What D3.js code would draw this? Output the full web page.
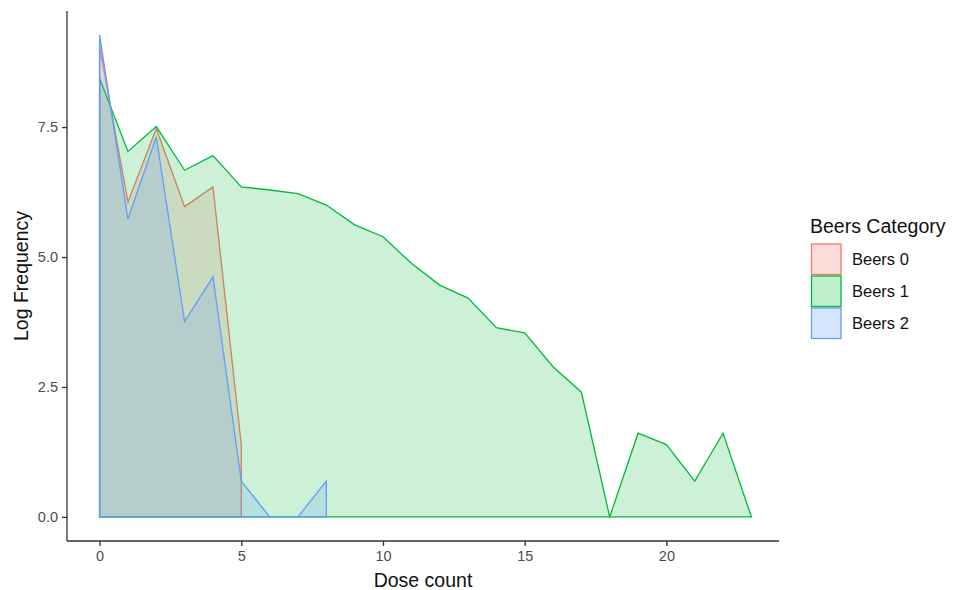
<!DOCTYPE html>
<html>
<head>
<meta charset="utf-8">
<script src="https://cdn.jsdelivr.net/npm/d3@7"></script>
<style>
  body { margin: 0; background: #fff; }
  svg { display: block; font-family: "Liberation Sans", Arial, sans-serif; }
</style>
</head>
<body>
<svg id="chart" width="953" height="590"></svg>
<script>
// Log frequency of dose counts per beers category
const doseBeers0 = [0, 1, 2, 3, 4, 5];
const logFreqBeers0 = [9.05, 6.06, 7.47, 5.97, 6.35, 1.39];

const doseBeers1 = [0, 1, 2, 3, 4, 5, 6, 7, 8, 9, 10, 11, 12, 13, 14, 15, 16, 17, 18, 19, 20, 21, 22, 23];
const logFreqBeers1 = [8.44, 7.03, 7.51, 6.67, 6.95, 6.35, 6.29, 6.22, 6.00, 5.62, 5.39, 4.88, 4.46, 4.21, 3.64, 3.54, 2.89, 2.40, 0, 1.61, 1.39, 0.69, 1.61, 0];

const doseBeers2 = [0, 1, 2, 3, 4, 5, 6, 7, 8];
const logFreqBeers2 = [9.27, 5.73, 7.31, 3.76, 4.62, 0.69, 0, 0, 0.69];

const categories = ["Beers 0", "Beers 1", "Beers 2"];
const colors = ["#F8766D", "#00BA38", "#619CFF"];
const xTicks = [0, 5, 10, 15, 20];
const yTicks = [0, 2.5, 5, 7.5];

const series = [
  { name: categories[0], dose: doseBeers0, value: logFreqBeers0, color: colors[0] },
  { name: categories[1], dose: doseBeers1, value: logFreqBeers1, color: colors[1] },
  { name: categories[2], dose: doseBeers2, value: logFreqBeers2, color: colors[2] }
];

const svg = d3.select("#chart");
const plotLeft = 67, plotRight = 784, plotTop = 11, plotBottom = 541;
const axisEnd = 779;

const x = d3.scaleLinear().domain([-1.15, 24.15]).range([plotLeft, plotRight]);
const y = d3.scaleLinear().domain([-0.4635, 9.7335]).range([plotBottom, plotTop]);

// areas, outlined all the way round
const area = d3.area()
  .x(d => x(d[0]))
  .y0(y(0))
  .y1(d => y(d[1]));

series.forEach(s => {
  const pts = s.dose.map((d, i) => [d, s.value[i]]);
  svg.append("path")
    .attr("d", area(pts))
    .attr("fill", s.color)
    .attr("fill-opacity", 0.2)
    .attr("stroke", s.color)
    .attr("stroke-width", 1.3)
    .attr("stroke-linejoin", "miter");
});

// axes
const axisColor = "#333";
const xAxis = svg.append("g").attr("transform", `translate(0,${plotBottom})`)
  .call(d3.axisBottom(x).tickValues(xTicks).tickFormat(d3.format("d")).tickSize(5).tickPadding(5));
const yAxis = svg.append("g").attr("transform", `translate(${plotLeft},0)`)
  .call(d3.axisLeft(y).tickValues(yTicks).tickFormat(d3.format(".1f")).tickSize(5).tickPadding(4));

[xAxis, yAxis].forEach(g => {
  g.select(".domain").attr("stroke", axisColor).attr("stroke-width", 1.3);
  g.selectAll(".tick line").attr("stroke", axisColor).attr("stroke-width", 1.3);
  g.selectAll(".tick text").attr("fill", "#4d4d4d").style("font-size", "14.5px")
    .style("font-family", "'Liberation Sans', Arial, sans-serif");
});
xAxis.select(".domain").attr("d", `M${plotLeft},0H${axisEnd}`);
yAxis.select(".domain").attr("d", `M0,${plotTop}V${plotBottom}`);

// axis titles
svg.append("text")
  .attr("x", 423).attr("y", 587)
  .attr("text-anchor", "middle").attr("fill", "#111")
  .style("font-size", "19.5px").text("Dose count");

svg.append("text")
  .attr("transform", `translate(28,276) rotate(-90)`)
  .attr("text-anchor", "middle").attr("fill", "#111")
  .style("font-size", "19.5px").text("Log Frequency");

// legend
const lg = svg.append("g").attr("transform", "translate(810,0)");
lg.append("text").attr("x", 0).attr("y", 233)
  .attr("fill", "#111").style("font-size", "19.5px").text("Beers Category");

series.forEach((s, i) => {
  const ky = 244 + i * 32;
  lg.append("rect")
    .attr("x", 1.5).attr("y", ky).attr("width", 29.5).attr("height", 30.5)
    .attr("fill", s.color).attr("fill-opacity", 0.25)
    .attr("stroke", s.color).attr("stroke-width", 1.3);
  lg.append("text")
    .attr("x", 42).attr("y", ky + 15.5).attr("dy", "0.35em")
    .attr("fill", "#111").style("font-size", "16.5px").text(s.name);
});
</script>
</body>
</html>
